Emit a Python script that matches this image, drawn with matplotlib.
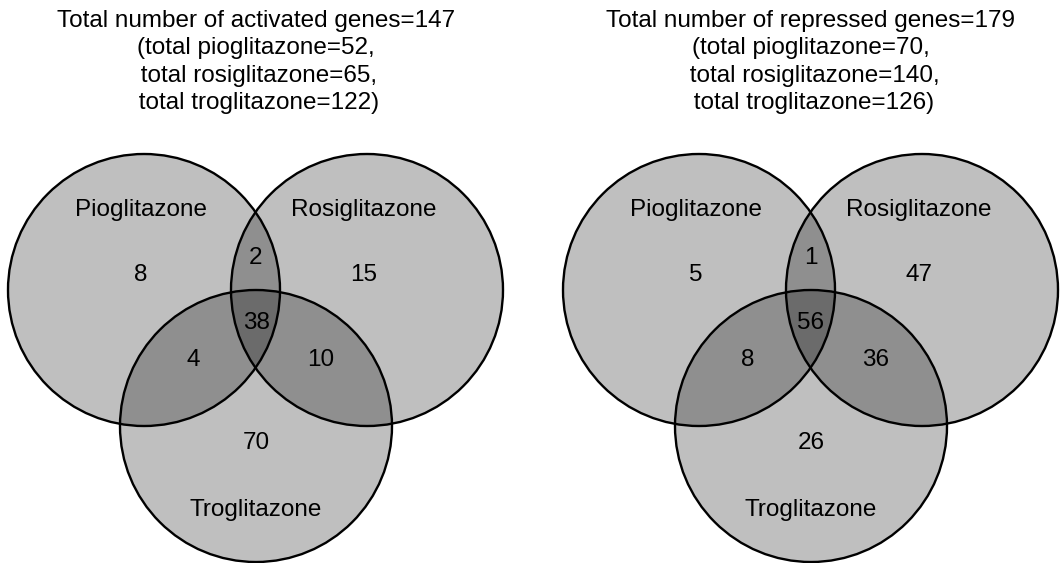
import matplotlib
matplotlib.use('Agg')
import matplotlib.pyplot as plt
from matplotlib.patches import Circle

plt.rcParams['font.family'] = ['Liberation Sans', 'DejaVu Sans']

drug_names = ['Pioglitazone', 'Rosiglitazone', 'Troglitazone']

# region counts: P only, R only, P&R only, P&T only, R&T only, all three, T only
activated_counts = [8, 15, 2, 4, 10, 38, 70]
repressed_counts = [5, 47, 1, 8, 36, 56, 26]

activated_title = ('Total number of activated genes=147\n(total pioglitazone=52,\n'
                   ' total rosiglitazone=65,\n total troglitazone=122)')
repressed_title = ('Total number of repressed genes=179\n(total pioglitazone=70,\n'
                   ' total rosiglitazone=140,\n total troglitazone=126)')

fig = plt.figure(figsize=(10.62, 5.63), dpi=100)
ax = fig.add_axes([0, 0, 1, 1])
ax.set_xlim(0, 1062)
ax.set_ylim(563, 0)
ax.axis('off')

R = 136
FS = 17.5


def venn(cx, counts, title):
    # circle centres relative to the diagram middle
    centres = [(cx - 112, 290), (cx + 111, 290), (cx, 426)]
    for c in centres:
        ax.add_patch(Circle(c, R, facecolor='black', alpha=0.25, edgecolor='none'))
    for c in centres:
        ax.add_patch(Circle(c, R, facecolor='none', edgecolor='black', lw=1.7))

    ax.text(cx - 115, 210, drug_names[0], ha='center', va='center', fontsize=FS)
    ax.text(cx + 108, 210, drug_names[1], ha='center', va='center', fontsize=FS)
    ax.text(cx, 510, drug_names[2], ha='center', va='center', fontsize=FS)

    spots = [(cx - 115, 275), (cx + 108, 275), (cx, 258), (cx - 63, 360),
             (cx + 65, 360), (cx, 323), (cx, 443)]
    for (x, y), n in zip(spots, counts):
        ax.text(x, y, str(n), ha='center', va='center', fontsize=FS)

    ax.text(cx, 62, title, ha='center', va='center', fontsize=FS, linespacing=1.33)


venn(256, activated_counts, activated_title)
venn(811, repressed_counts, repressed_title)

fig.savefig('out.png', dpi=100)
